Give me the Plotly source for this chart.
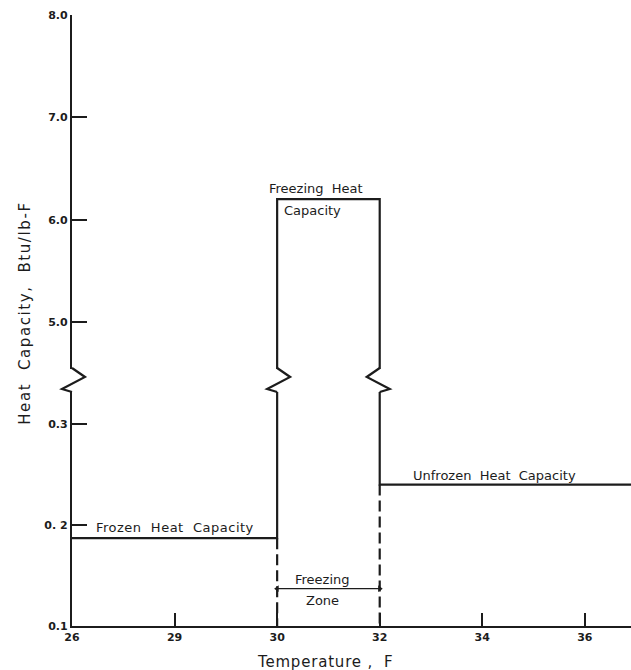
import plotly.graph_objects as go

# Temperature positions along the x axis (schematic, evenly spaced);
# "38" only carries the unfrozen line out past the last tick.
TEMPS = ["26", "29", "30", "32", "34", "36", "38"]
TICK_TEMPS = ["26", "29", "30", "32", "34", "36"]

# Heat capacity levels, Btu/lb-F
FROZEN_C = 0.187
FREEZING_C = 6.2
UNFROZEN_C = 0.24
FREEZE_START = "30"
FREEZE_END = "32"
START_T = "26"
END_T = "38"

# Step profile of heat capacity against temperature
STEP_T = [START_T, FREEZE_START, FREEZE_START, FREEZE_END, FREEZE_END, END_T]
STEP_C = [FROZEN_C, FROZEN_C, FREEZING_C, FREEZING_C, UNFROZEN_C, UNFROZEN_C]

# Broken y axis: low segment and high segment
LOW_TICKS = [0.1, 0.2, 0.3]
LOW_TEXT = ["0.1", "0. 2", "0.3"]
HIGH_TICKS = [5, 6, 7, 8]
HIGH_TEXT = ["5.0", "6.0", "7.0", "8.0"]
LOW_RANGE = [0.1, 0.3317]
HIGH_RANGE = [4.541, 8.0]
AXIS_FLOOR = 0.1
ZONE_ARROW_C = 0.137

INK = "#1c1c1c"
FONT = "DejaVu Sans"


def spaced(s, px):
    return f'<span style="letter-spacing:{px}px">{s}</span>'


fig = go.Figure()

line_style = dict(color=INK, width=2.2)

# same step drawn on both halves of the broken axis; each half clips its own part
for yax in ("y", "y2"):
    fig.add_trace(go.Scatter(x=STEP_T, y=STEP_C, mode="lines", line=line_style,
                             yaxis=yax, hoverinfo="skip", showlegend=False))

# dashed drop lines bounding the freezing zone
for t, c in ((FREEZE_START, FROZEN_C), (FREEZE_END, UNFROZEN_C)):
    fig.add_trace(go.Scatter(x=[t, t], y=[c, AXIS_FLOOR], mode="lines",
                             line=dict(color=INK, width=2.2, dash="11px,5px"),
                             hoverinfo="skip", showlegend=False))

# double-headed arrow spanning the freezing zone
fig.add_trace(go.Scatter(x=[FREEZE_START, FREEZE_END], y=[ZONE_ARROW_C, ZONE_ARROW_C],
                         mode="lines+markers", line=dict(color=INK, width=1.3),
                         marker=dict(symbol=["triangle-left", "triangle-right"], size=6,
                                     color=INK),
                         hoverinfo="skip", showlegend=False))

idx = {t: i for i, t in enumerate(TEMPS)}

# zigzag break symbols in the gap between the axis halves
GAP_Y = 0.383
zig_line = dict(color=INK, width=2.2)
shapes = [
    # on the y axis itself (paper x so the left swing is not clipped)
    dict(type="path", xref="paper", yref="paper", xsizemode="pixel", ysizemode="pixel",
         xanchor=0, yanchor=GAP_Y, path="M 0 24 L 13 15 L -10 3 L 0 0", line=zig_line),
]
for t, d in ((FREEZE_START, 1), (FREEZE_END, -1)):
    shapes.append(dict(
        type="path", xref="x", yref="paper",
        xsizemode="pixel", ysizemode="pixel",
        xanchor=idx[t], yanchor=GAP_Y,
        path=f"M 0 24 L {13*d} 15 L {-10*d} 3 L 0 0",
        line=zig_line,
    ))

txt = dict(family=FONT, size=13, color=INK)
annotations = [
    dict(x=idx["29"], y=0.198, xref="x", yref="y", text=spaced("Frozen  Heat  Capacity", 0.5),
         showarrow=False, font=txt),
    dict(x=4.12, y=0.2495, xref="x", yref="y", text="Unfrozen  Heat  Capacity",
         showarrow=False, font=txt),
    dict(x=2.38, y=6.30, xref="x", yref="y2", text="Freezing  Heat",
         showarrow=False, font=txt),
    dict(x=2.05, y=6.085, xref="x", yref="y2", text="Capacity", xanchor="left",
         showarrow=False, font=txt),
    dict(x=2.44, y=0.1465, xref="x", yref="y", text="Freezing",
         showarrow=False, font=txt),
    dict(x=2.44, y=0.1257, xref="x", yref="y", text="Zone",
         showarrow=False, font=txt),
    dict(x=0, y=0.511, xref="paper", yref="paper", xshift=-58, textangle=-90,
         text=spaced("Heat  Capacity,  Btu/lb-F", 1.6), showarrow=False,
         font=dict(family=FONT, size=15, color=INK)),
    dict(x=0.454, y=-0.059, xref="paper", yref="paper", yshift=-11,
         text=spaced("Temperature ,  F", 0.8), showarrow=False,
         font=dict(family=FONT, size=15, color=INK)),
]

tickfont = dict(family=FONT, size=11, color=INK, weight="bold")
axis_common = dict(showgrid=False, zeroline=False, showline=True, linewidth=2.2,
                   linecolor=INK, ticks="inside", tickcolor=INK, tickfont=tickfont)

fig.update_layout(
    width=631, height=670,
    margin=dict(l=72, r=0, t=15, b=44),
    paper_bgcolor="white", plot_bgcolor="white",
    showlegend=False,
    xaxis=dict(type="category", categoryorder="array", categoryarray=TEMPS,
               range=[0, 5.45], tickvals=TICK_TEMPS, ticklen=13, tickwidth=1.5,
               anchor="y", **axis_common),
    yaxis=dict(domain=[0, GAP_Y], range=LOW_RANGE, tickvals=LOW_TICKS,
               ticktext=LOW_TEXT, ticklen=15, tickwidth=1.5, anchor="x", **axis_common),
    yaxis2=dict(domain=[0.4206, 1], range=HIGH_RANGE, tickvals=HIGH_TICKS,
                ticktext=HIGH_TEXT, ticklen=15, tickwidth=1.5, anchor="x", **axis_common),
    shapes=shapes,
    annotations=annotations,
)

fig.write_html("out.html")
